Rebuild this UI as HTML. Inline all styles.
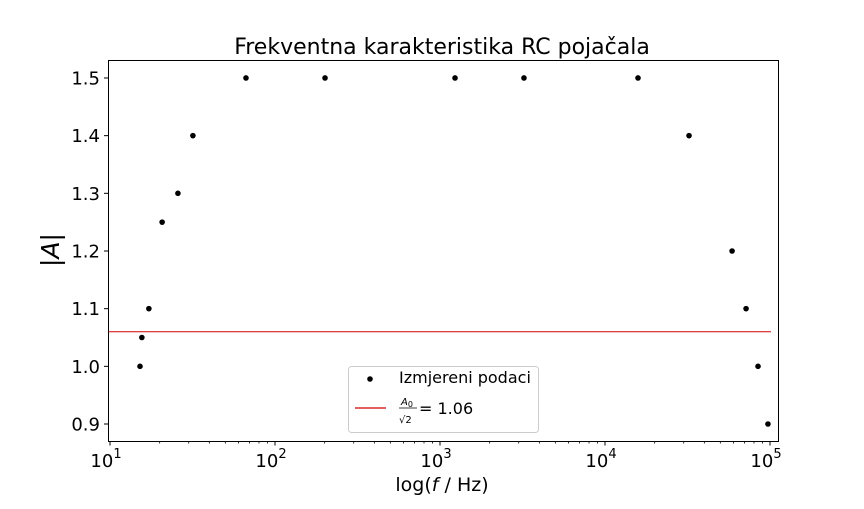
<!DOCTYPE html>
<html><head><meta charset="utf-8"><style>
body{margin:0;background:#fff;}
svg{font-family:"DejaVu Sans","Liberation Sans",sans-serif;}
</style></head><body>
<svg id="c" width="864" height="504">
<text x="442" y="54" font-size="22" text-anchor="middle">Frekventna karakteristika RC pojačala</text>
<rect x="108.5" y="60.5" width="670" height="381" fill="none" stroke="#000" stroke-width="1"/>
<g id="xt"></g>
<g id="yt"></g>
<text x="442" y="491" font-size="19" text-anchor="middle">log(<tspan font-style="italic">f</tspan> / Hz)</text>
<text transform="translate(59,250) rotate(-90)" font-size="25" text-anchor="middle">|<tspan font-style="italic">A</tspan>|</text>
<g id="marks"></g>
<g>
<rect x="348.5" y="366.5" width="190" height="66" rx="3" fill="#fff" stroke="#ccc"/>
<circle cx="370" cy="379" r="2.8" fill="#000"/>
<text x="399" y="383" font-size="16">Izmjereni podaci</text>
<line x1="355" y1="408" x2="386" y2="408" stroke="#d00000" stroke-width="1.2"/>
<text x="401" y="405" font-size="10" font-style="italic">A<tspan font-size="8" dy="2" font-style="normal">0</tspan></text>
<line x1="399" y1="408" x2="417" y2="408" stroke="#000" stroke-width="0.8"/>
<text x="399" y="423" font-size="10">√2</text>
<text x="419" y="414" font-size="16">= 1.06</text>
</g>
</svg>
<script>
const freqs=[15.2,15.6,17.2,20.7,25.8,31.8,66.7,201,1233,3227,15850,32300,58900,71600,84600,97200];
const amps=[1.0,1.05,1.1,1.25,1.3,1.4,1.5,1.5,1.5,1.5,1.5,1.4,1.2,1.1,1.0,0.9];
const threshold=[1.06];
const yTicks=[0.9,1.0,1.1,1.2,1.3,1.4,1.5];
const xDecades=[1,2,3,4,5];
const NS='http://www.w3.org/2000/svg';
function X(f){return 110+(Math.log10(f)-1)*165;}
function Y(v){return 424-(v-0.9)*576.7;}
const svg=document.getElementById('c');
function mk(t,a,p){const e=document.createElementNS(NS,t);for(const k in a)e.setAttribute(k,a[k]);(p||svg).appendChild(e);return e;}
const xt=document.getElementById('xt'),yt=document.getElementById('yt'),marks=document.getElementById('marks');
xDecades.forEach(d=>{
 const x=X(Math.pow(10,d));
 const t=mk('line',{x1:x,y1:441,x2:x,y2:445.5,stroke:'#000'},xt);
 
 
 const l=mk('text',{x:x-4,y:467,'font-size':18,'text-anchor':'middle'},xt);
 
 
 l.innerHTML='10<tspan font-size="13" dy="-9">'+d+'</tspan>';
 if(d<5)for(let m=2;m<10;m++){const xm=X(m*Math.pow(10,d));mk('line',{x1:xm,y1:441,x2:xm,y2:443.5,stroke:'#000','stroke-width':0.8},xt);}
});
yTicks.forEach(v=>{
 const y=Y(v);
 const t=mk('line',{x1:104,y1:y,x2:108.5,y2:y,stroke:'#000'},yt);
 
 
 const l=mk('text',{x:100,y:y+6.5,'font-size':18,'text-anchor':'end'},yt);
 
 
 l.textContent=v.toFixed(1);
});
const hl=mk('line',{x1:108.5,y1:Y(threshold[0]),x2:771,y2:Y(threshold[0]),stroke:'#d00000','stroke-width':1},marks);


freqs.forEach((f,i)=>{
 const c=mk('circle',{cx:X(f),cy:Y(amps[i]),r:2.8,fill:'#000'},marks);
 
 
});
</script>
</body></html>
